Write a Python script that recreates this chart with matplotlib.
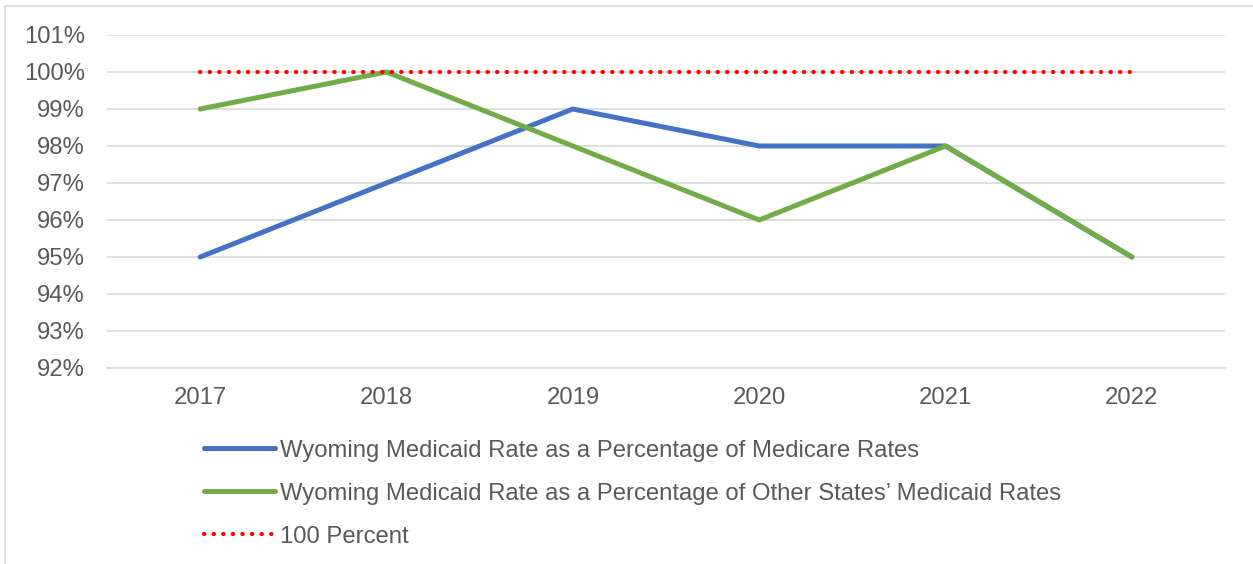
import matplotlib
matplotlib.use("Agg")
import matplotlib.pyplot as plt
from matplotlib.ticker import FuncFormatter
from matplotlib.patches import Rectangle

years = ["2017", "2018", "2019", "2020", "2021", "2022"]
medicare_pct = [95, 97, 99, 98, 98, 95]
other_states_pct = [99, 100, 98, 96, 98, 95]
hundred_pct = [100, 100, 100, 100, 100, 100]
series_labels = [
    "Wyoming Medicaid Rate as a Percentage of Medicare Rates",
    "Wyoming Medicaid Rate as a Percentage of Other States\u2019 Medicaid Rates",
    "100 Percent",
]
yticks = list(range(92, 102))

plt.rcParams['font.family'] = ['Liberation Sans', 'DejaVu Sans']
txt = '#595959'
fs = 17.2

fig = plt.figure(figsize=(12.53, 5.64), dpi=100)
fig.patches.append(Rectangle((0.004, -0.05), 1.2, 1.04, transform=fig.transFigure,
                             fill=False, edgecolor='#D9D9D9', linewidth=1.2))
ax = fig.add_axes([107/1253, 1-368/564, (1225-107)/1253, (368-35)/564])

x = list(range(len(years)))
l1, = ax.plot(x, medicare_pct, color='#4472C4', lw=3.6, solid_capstyle='round', zorder=3)
l2, = ax.plot(x, other_states_pct, color='#70AD47', lw=3.6, solid_capstyle='round', zorder=4)
l3, = ax.plot(x, hundred_pct, color='#FF0000', lw=3.0, linestyle=(0, (0.1, 2.2)),
              dash_capstyle='round', zorder=5)

ax.set_xlim(-0.5, len(years) - 0.5)
ax.set_ylim(92, 101)
ax.set_yticks(yticks)
ax.yaxis.set_major_formatter(FuncFormatter(lambda v, p: f"{int(v)}%"))
ax.set_xticks(x)
ax.set_xticklabels(years)
ax.grid(axis='y', color='#D9D9D9', linewidth=1.2)
ax.set_axisbelow(True)
for s in ['top', 'right', 'left']:
    ax.spines[s].set_visible(False)
ax.spines['bottom'].set_color('#D9D9D9')
ax.spines['bottom'].set_linewidth(1.2)
ax.tick_params(axis='both', length=0, labelsize=fs, colors=txt)
ax.tick_params(axis='y', pad=16)
ax.tick_params(axis='x', pad=14)

leg = fig.legend([l1, l2, l3], series_labels, loc='upper left',
                 bbox_to_anchor=(194/1253, 1-430/564), frameon=False,
                 fontsize=fs, labelcolor=txt, handlelength=3.0, handletextpad=0.2,
                 labelspacing=0.88, borderaxespad=0)

fig.savefig("out.png", dpi=100)
